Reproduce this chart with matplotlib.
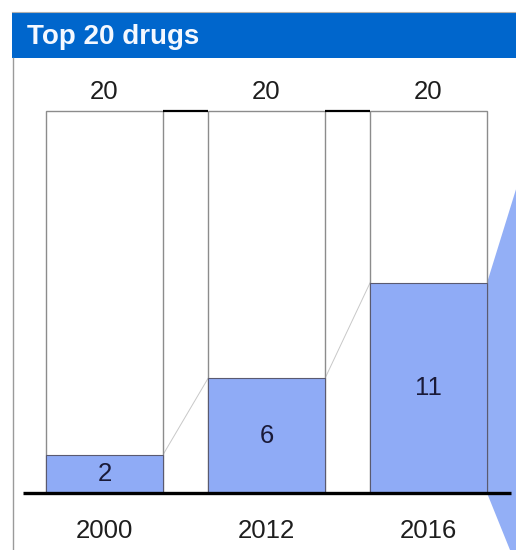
import matplotlib.pyplot as plt
from matplotlib.patches import Rectangle, Polygon

plt.rcParams['font.family'] = ['Liberation Sans', 'DejaVu Sans']

# Data
years = ['2000', '2012', '2016']
totals = [20, 20, 20]
counts = [2, 6, 11]
title = 'Top 20 drugs'

fill_color = '#8FABF6'
header_color = '#0066CC'

fig = plt.figure(figsize=(5.16, 5.5), dpi=100)
ax = fig.add_axes([0, 0, 1, 1])
ax.set_xlim(-0.645, 2.540)
ax.set_ylim(-2.984, 25.81)
ax.axis('off')

w = 0.722
x = list(range(len(years)))

# white total bars and blue filled part
ax.bar(x, totals, width=w, color='white', edgecolor='#8c8c8c', lw=1.0, zorder=2)
ax.bar(x, counts, width=w, color=fill_color, edgecolor='#5a5a70', lw=0.8, zorder=3)

# connectors between bars
for i in range(len(x) - 1):
    ax.plot([x[i] + w / 2, x[i + 1] - w / 2], [totals[i], totals[i + 1]],
            color='black', lw=1.6, zorder=4, solid_capstyle='butt')
    ax.plot([x[i] + w / 2, x[i + 1] - w / 2], [counts[i], counts[i + 1]],
            color='#c8c8c8', lw=0.7, zorder=1)

# projection shape on the right
xr = ax.get_xlim()[1]
yb = ax.get_ylim()[0]
proj = Polygon([(x[-1] + w / 2, counts[-1]), (xr, 15.9), (xr, yb),
                (2.503, yb), (x[-1] + w / 2, 0)],
               closed=True, facecolor='#93AFF6', edgecolor='none', zorder=1)
ax.add_patch(proj)

# baseline
ax.plot([-0.503, 2.509], [0, 0], color='black', lw=2.4, zorder=5,
        solid_capstyle='butt')

# labels
for i in range(len(x)):
    ax.text(x[i], totals[i] + 0.63, str(totals[i]), ha='center', va='baseline',
            fontsize=18.5, color='#1e1e1e')
    ax.text(x[i], counts[i] / 2, str(counts[i]), ha='center', va='center',
            fontsize=18.5, color='#1a1a38', zorder=6)
    ax.text(x[i], -2.36, years[i], ha='center', va='baseline',
            fontsize=18.5, color='#1e1e1e')

# header band and frame
fig.patches.append(Rectangle((12 / 516, 1 - 58 / 550), 1, 46 / 550,
                             transform=fig.transFigure, facecolor=header_color,
                             edgecolor='none', zorder=0))
fig.lines.append(plt.Line2D([12.5 / 516, 12.5 / 516], [0, 1 - 58 / 550],
                            transform=fig.transFigure, color='#9a9a9a', lw=1.0))
fig.lines.append(plt.Line2D([12 / 516, 1], [1 - 11.5 / 550, 1 - 11.5 / 550],
                            transform=fig.transFigure, color='#b0b0b0', lw=0.8))
fig.text(27 / 516, 1 - 44 / 550, title, ha='left', va='baseline',
         fontsize=20, fontweight='bold', color='#f4f8ff')

fig.savefig('out.png', dpi=100)
